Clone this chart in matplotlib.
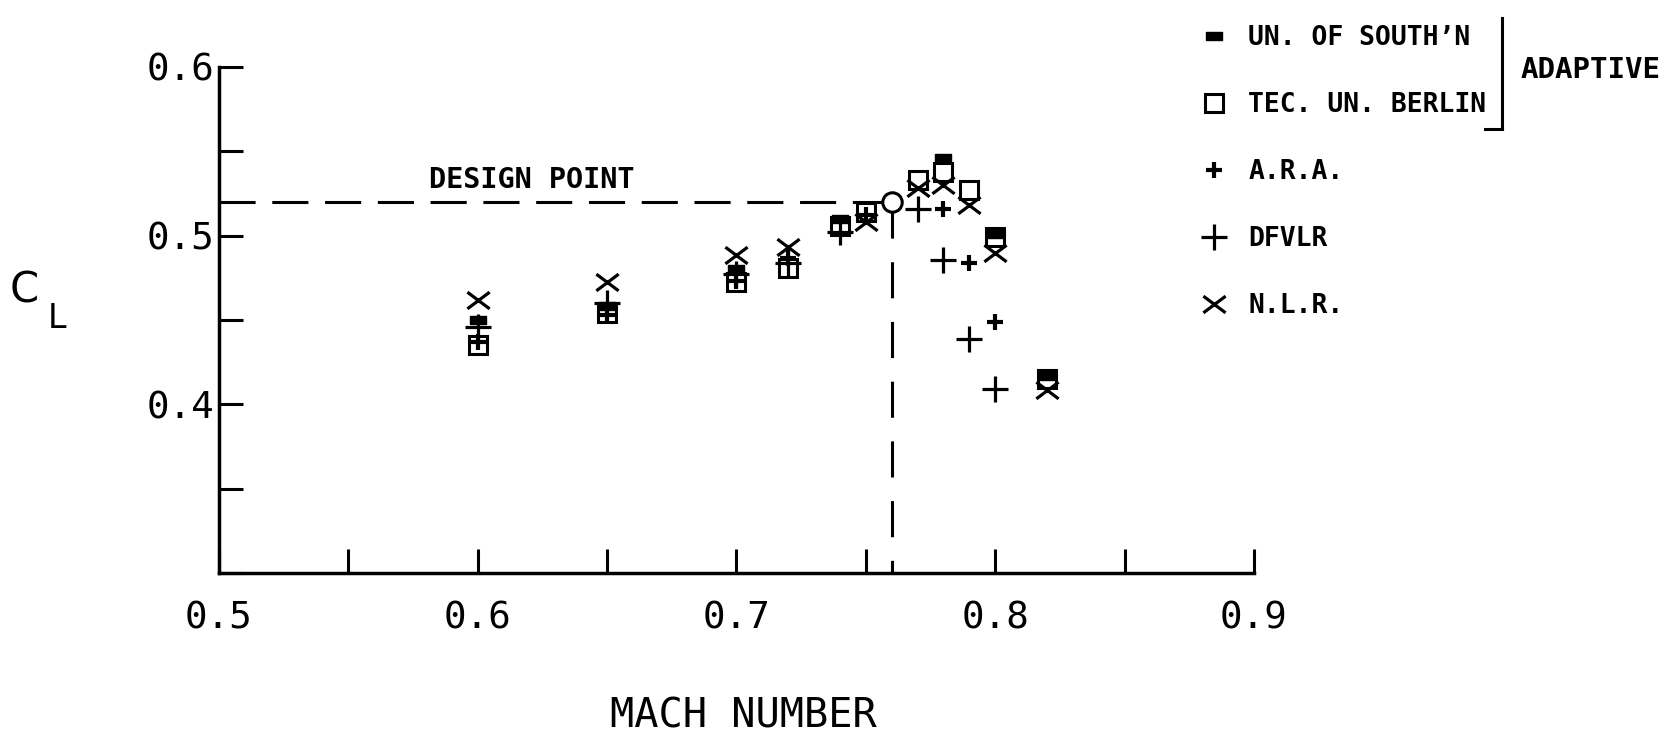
import matplotlib
matplotlib.use("Agg")
import matplotlib.pyplot as plt
from matplotlib.lines import Line2D
from matplotlib.path import Path

# lift coefficient vs Mach number, adaptive-wall and other tunnels
mach_south = [0.60, 0.65, 0.70, 0.74, 0.78, 0.80, 0.82]
cl_south = [0.450, 0.458, 0.480, 0.510, 0.546, 0.501, 0.417]

mach_berlin = [0.60, 0.65, 0.70, 0.72, 0.74, 0.75, 0.77, 0.78, 0.79, 0.80, 0.82]
cl_berlin = [0.435, 0.454, 0.4725, 0.481, 0.506, 0.514, 0.533, 0.538, 0.527, 0.499, 0.415]

mach_ara = [0.60, 0.65, 0.70, 0.72, 0.75, 0.78, 0.79, 0.80]
cl_ara = [0.437, 0.453, 0.473, 0.487, 0.512, 0.516, 0.484, 0.449]

mach_dfvlr = [0.60, 0.65, 0.70, 0.72, 0.74, 0.77, 0.78, 0.79, 0.80]
cl_dfvlr = [0.446, 0.460, 0.477, 0.484, 0.502, 0.516, 0.4855, 0.439, 0.409]

mach_nlr = [0.60, 0.65, 0.70, 0.72, 0.75, 0.77, 0.78, 0.79, 0.80, 0.82]
cl_nlr = [0.462, 0.4725, 0.4885, 0.493, 0.508, 0.528, 0.530, 0.518, 0.490, 0.4085]

design_mach = 0.76
design_cl = 0.52

labels = ["UN. OF SOUTH’N", "TEC. UN. BERLIN", "A.R.A.", "DFVLR", "N.L.R."]

x_ticks = [0.5, 0.55, 0.6, 0.65, 0.7, 0.75, 0.8, 0.85, 0.9]
x_tick_labels = ["0.5", "", "0.6", "", "0.7", "", "0.8", "", "0.9"]
y_ticks = [0.3, 0.35, 0.4, 0.45, 0.5, 0.55, 0.6]
y_tick_labels = ["", "", "0.4", "", "0.5", "", "0.6"]

plt.rcParams['font.family'] = ['DejaVu Sans Mono', 'DejaVu Sans']
plt.rcParams['lines.scale_dashes'] = False

# small flat block and a wide cross, like the plotter symbols
block = [(-1, -0.55), (1, -0.55), (1, 0.55), (-1, 0.55), (-1, -0.55)]
wide_x = Path([(-1, -0.75), (1, 0.75), (-1, 0.75), (1, -0.75)],
              [Path.MOVETO, Path.LINETO, Path.MOVETO, Path.LINETO])

fig = plt.figure(figsize=(16.78, 7.36), dpi=100)
ax = fig.add_axes([0.1305, 0.2215, 0.6168, 0.6875])

h_berlin, = ax.plot(mach_berlin, cl_berlin, ls='none', marker='s', ms=12.5,
                    mfc='white', mec='black', mew=2.2)
h_ara, = ax.plot(mach_ara, cl_ara, ls='none', marker='+', ms=12,
                 mec='black', mew=3.0)
h_dfvlr, = ax.plot(mach_dfvlr, cl_dfvlr, ls='none', marker='+', ms=19,
                   mec='black', mew=2.3)
h_nlr, = ax.plot(mach_nlr, cl_nlr, ls='none', marker=wide_x, ms=16,
                 mfc='none', mec='black', mew=2.3)
h_south, = ax.plot(mach_south, cl_south, ls='none', marker=block, ms=11,
                   mfc='black', mec='black', mew=1)

# design point with dashed guide lines
ax.plot([0.5, design_mach], [design_cl, design_cl], color='black', lw=2.2,
        dashes=(26, 12))
ax.plot([design_mach, design_mach], [design_cl, 0.3], color='black', lw=2.2,
        dashes=(26, 17))
ax.plot(design_mach, design_cl, marker='o', ms=14, mfc='white', mec='black',
        mew=2.2, zorder=5)
ax.text(0.621, 0.533, "DESIGN POINT", ha='center', va='center',
        fontsize=20.5, fontweight='bold')

ax.set_xlim(0.5, 0.9)
ax.set_ylim(0.3, 0.6)
ax.set_xticks(x_ticks)
ax.set_xticklabels(x_tick_labels)
ax.set_yticks(y_ticks)
ax.set_yticklabels(y_tick_labels)
ax.tick_params(direction='in', length=17, width=2.2, labelsize=27)
ax.tick_params(axis='x', pad=20)
ax.tick_params(axis='y', pad=3)
for side in ['top', 'right']:
    ax.spines[side].set_visible(False)
for side in ['left', 'bottom']:
    ax.spines[side].set_linewidth(2.5)

ax.set_xlabel("MACH NUMBER", fontsize=29)
ax.xaxis.set_label_coords(0.507, -0.245)

fig.text(24 / 1678, 1 - 291 / 736, "C", fontsize=30, ha='center', va='center',
         family='DejaVu Sans')
fig.text(57 / 1678, 1 - 319 / 736, "L", fontsize=24, ha='center', va='center',
         family='DejaVu Sans')

ax.legend([h_south, h_berlin, h_ara, h_dfvlr, h_nlr], labels,
          loc='upper left', bbox_to_anchor=(0.7157, 0.966),
          bbox_transform=fig.transFigure, frameon=False, borderpad=0,
          borderaxespad=0, handlelength=1.0, handletextpad=0.8,
          labelspacing=1.555, numpoints=1,
          prop={'family': 'DejaVu Sans Mono', 'weight': 'bold', 'size': 19})

# bracket grouping the two adaptive-wall tunnels
fig.add_artist(Line2D([1502 / 1678, 1502 / 1678], [1 - 18 / 736, 1 - 129 / 736],
                      color='black', lw=2.2, transform=fig.transFigure))
fig.add_artist(Line2D([1485 / 1678, 1502 / 1678], [1 - 129 / 736, 1 - 129 / 736],
                      color='black', lw=2.2, transform=fig.transFigure))
fig.text(1521 / 1678, 1 - 70 / 736, "ADAPTIVE", fontsize=21, fontweight='bold',
         ha='left', va='center')

fig.savefig("out.png", dpi=100, facecolor='white')
